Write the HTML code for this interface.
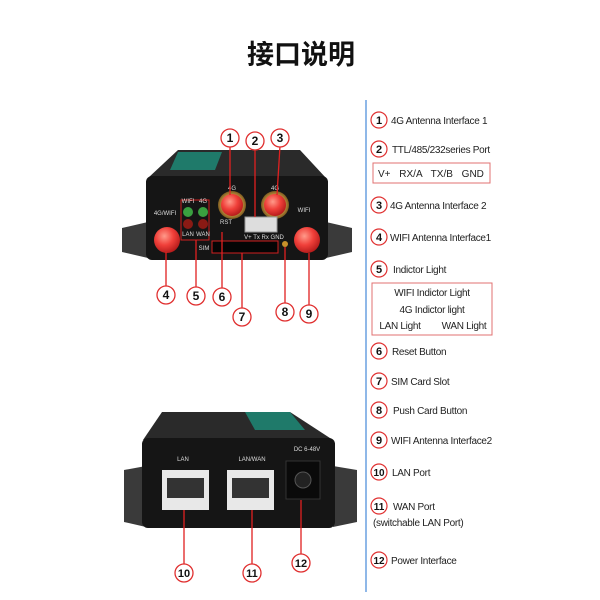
<!DOCTYPE html>
<html><head><meta charset="utf-8"><style>
html,body{margin:0;padding:0;background:#fff;}
svg{display:block;}
text{font-family:"Liberation Sans","Noto Sans CJK SC",sans-serif;}
</style></head><body>
<svg width="600" height="600" viewBox="0 0 600 600">
<defs>
<radialGradient id="ant" cx="0.4" cy="0.35" r="0.7"><stop offset="0" stop-color="#ff9a8a"/><stop offset="0.5" stop-color="#f0403a"/><stop offset="1" stop-color="#b01818"/></radialGradient>
<radialGradient id="gold" cx="0.5" cy="0.5" r="0.5"><stop offset="0.6" stop-color="#e0a84a"/><stop offset="1" stop-color="#7a5a20"/></radialGradient>
</defs>
<text x="301" y="64" font-size="27" font-weight="bold" text-anchor="middle" fill="#111">接口说明</text>
<line x1="366" y1="100" x2="366" y2="592" stroke="#8fb8e8" stroke-width="2"/>

<!-- top device -->
<polygon points="122,228 148,222 148,258 122,252" fill="#3a3a3a"/>
<polygon points="352,228 326,222 326,258 352,252" fill="#3a3a3a"/>
<polygon points="178,150 300,150 326,178 148,178" fill="#2a2a2a"/>
<polygon points="178,152 222,152 215,170 170,170" fill="#1f7a6a"/>
<rect x="146" y="176" width="182" height="84" rx="6" fill="#151515"/>
<circle cx="232" cy="205" r="14" fill="url(#gold)"/><circle cx="232" cy="205" r="11" fill="url(#ant)"/>
<circle cx="275" cy="205" r="14" fill="url(#gold)"/><circle cx="275" cy="205" r="11" fill="url(#ant)"/>
<circle cx="167" cy="240" r="13" fill="url(#ant)"/>
<circle cx="307" cy="240" r="13" fill="url(#ant)"/>
<circle cx="188" cy="212" r="5" fill="#3aa040"/><circle cx="203" cy="212" r="5" fill="#3aa040"/>
<circle cx="188" cy="224" r="5" fill="#8a1a14"/><circle cx="203" cy="224" r="5" fill="#8a1a14"/>
<rect x="181" y="200" width="28" height="40" fill="none" stroke="#d02020" stroke-width="1"/>
<rect x="245" y="217" width="32" height="15" fill="#ddd" stroke="#999"/>
<rect x="212" y="241" width="66" height="12" fill="#050505" stroke="#d02020"/>
<circle cx="285" cy="244" r="3" fill="#c8902a"/>
<g font-size="6" fill="#ddd" text-anchor="middle">
<text x="165" y="215">4G/WIFI</text><text x="188" y="203">WIFI</text><text x="203" y="203">4G</text>
<text x="188" y="236">LAN</text><text x="203" y="236">WAN</text><text x="226" y="224">RST</text>
<text x="232" y="190">4G</text><text x="275" y="190">4G</text><text x="304" y="212">WIFI</text>
<text x="204" y="250">SIM</text><text x="264" y="239">V+ Tx Rx GND</text>
</g>
<g stroke="#e02020" stroke-width="1.3">
<line x1="230" y1="146" x2="230" y2="195"/><line x1="255" y1="149" x2="255" y2="217"/><line x1="280" y1="146" x2="277" y2="195"/>
<line x1="166" y1="286" x2="166" y2="252"/><line x1="196" y1="287" x2="196" y2="240"/><line x1="222" y1="288" x2="222" y2="232"/>
<line x1="242" y1="308" x2="242" y2="253"/><line x1="285" y1="303" x2="285" y2="247"/><line x1="309" y1="305" x2="309" y2="253"/>
</g>

<!-- bottom device -->
<polygon points="124,470 146,466 146,527 124,522" fill="#3a3a3a"/>
<polygon points="357,470 333,466 333,527 357,522" fill="#3a3a3a"/>
<polygon points="162,412 290,412 333,440 143,440" fill="#2a2a2a"/>
<polygon points="245,412 290,412 305,430 255,430" fill="#1f7a6a"/>
<rect x="142" y="438" width="193" height="90" rx="6" fill="#151515"/>
<rect x="162" y="470" width="47" height="40" fill="#e8e8e8"/><rect x="167" y="478" width="37" height="20" fill="#333"/>
<rect x="227" y="470" width="47" height="40" fill="#e8e8e8"/><rect x="232" y="478" width="37" height="20" fill="#333"/>
<rect x="286" y="461" width="34" height="38" fill="#0a0a0a" stroke="#333"/><circle cx="303" cy="480" r="8" fill="#222" stroke="#555"/>
<g font-size="6" fill="#ddd" text-anchor="middle"><text x="183" y="461">LAN</text><text x="252" y="461">LAN/WAN</text><text x="307" y="451">DC 6-48V</text></g>
<g stroke="#e02020" stroke-width="1.3">
<line x1="184" y1="510" x2="184" y2="564"/><line x1="252" y1="510" x2="252" y2="564"/><line x1="301" y1="500" x2="301" y2="554"/>
</g>

<g fill="#fff" stroke="#e03030" stroke-width="1.3">
<circle cx="230" cy="138" r="9"/><circle cx="255" cy="141" r="9"/><circle cx="280" cy="138" r="9"/>
<circle cx="166" cy="295" r="9"/><circle cx="196" cy="296" r="9"/><circle cx="222" cy="297" r="9"/>
<circle cx="242" cy="317" r="9"/><circle cx="285" cy="312" r="9"/><circle cx="309" cy="314" r="9"/>
<circle cx="184" cy="573" r="9"/><circle cx="252" cy="573" r="9"/><circle cx="301" cy="563" r="9"/>
</g>
<g font-size="12" font-weight="bold" text-anchor="middle" fill="#111">
<text x="230" y="142">1</text><text x="255" y="145">2</text><text x="280" y="142">3</text>
<text x="166" y="299">4</text><text x="196" y="300">5</text><text x="222" y="301">6</text>
<text x="242" y="321">7</text><text x="285" y="316">8</text><text x="309" y="318">9</text>
<text x="184" y="577" font-size="11">10</text><text x="252" y="577" font-size="11">11</text><text x="301" y="567" font-size="11">12</text>
</g>

<!-- right column -->
<g fill="#fff" stroke="#e03030" stroke-width="1.2">
<circle cx="379" cy="120" r="8"/><circle cx="379" cy="149" r="8"/><circle cx="379" cy="205" r="8"/>
<circle cx="379" cy="237" r="8"/><circle cx="379" cy="269" r="8"/><circle cx="379" cy="351" r="8"/>
<circle cx="379" cy="381" r="8"/><circle cx="379" cy="410" r="8"/><circle cx="379" cy="440" r="8"/>
<circle cx="379" cy="472" r="8"/><circle cx="379" cy="506" r="8"/><circle cx="379" cy="560" r="8"/>
</g>
<g font-size="11" font-weight="bold" text-anchor="middle" fill="#111">
<text x="379" y="124">1</text><text x="379" y="153">2</text><text x="379" y="209">3</text>
<text x="379" y="241">4</text><text x="379" y="273">5</text><text x="379" y="355">6</text>
<text x="379" y="385">7</text><text x="379" y="414">8</text><text x="379" y="444">9</text>
<text x="379" y="476" font-size="10">10</text><text x="379" y="510" font-size="10">11</text><text x="379" y="564" font-size="10">12</text>
</g>
<g font-size="10" fill="#222" letter-spacing="-0.3">
<text x="391" y="124">4G Antenna Interface 1</text>
<text x="392" y="153">TTL/485/232series Port</text>
<text x="390" y="209">4G Antenna Interface 2</text>
<text x="390" y="241">WIFI Antenna Interface1</text>
<text x="393" y="273">Indictor Light</text>
<text x="392" y="355">Reset  Button</text>
<text x="391" y="385">SIM Card Slot</text>
<text x="393" y="414">Push Card Button</text>
<text x="391" y="444">WIFI Antenna Interface2</text>
<text x="392" y="476">LAN Port</text>
<text x="393" y="510">WAN Port</text>
<text x="373" y="526">(switchable LAN Port)</text>
<text x="391" y="564">Power Interface</text>
</g>
<rect x="373" y="163" width="117" height="20" fill="none" stroke="#e07070" stroke-width="1"/>
<text x="378" y="177" font-size="10" fill="#222" word-spacing="6">V+ RX/A TX/B GND</text>
<rect x="372" y="283" width="120" height="52" fill="none" stroke="#e07070" stroke-width="1"/>
<g font-size="10" fill="#222" text-anchor="middle" letter-spacing="-0.3">
<text x="432" y="296">WIFI Indictor Light</text>
<text x="432" y="313">4G Indictor light</text>
<text x="400" y="329">LAN Light</text><text x="464" y="329">WAN Light</text>
</g>
</svg>
</body></html>
